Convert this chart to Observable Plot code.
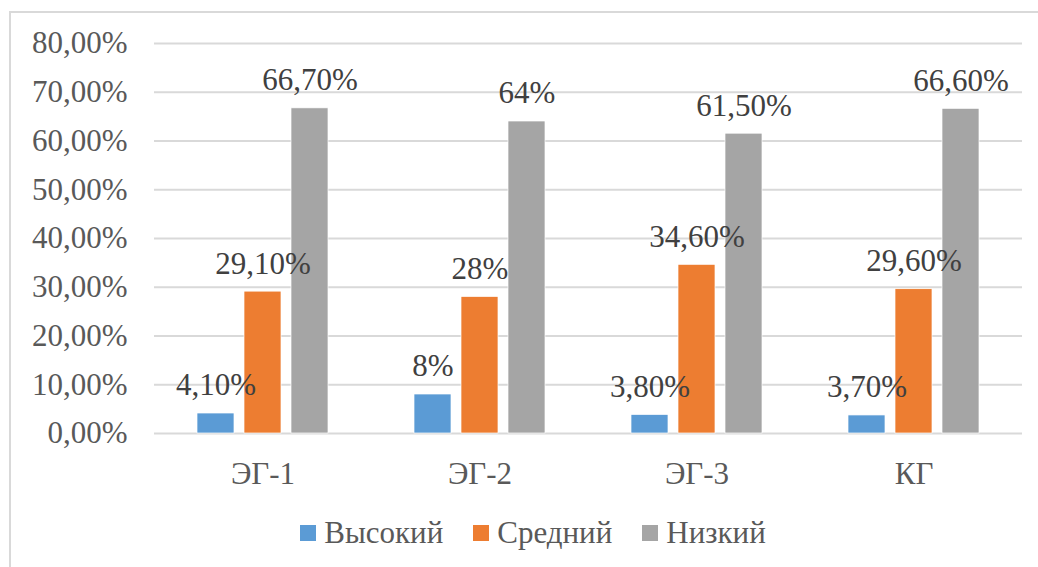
<!DOCTYPE html>
<html><head><meta charset="utf-8">
<script src="https://cdn.jsdelivr.net/npm/d3@7"></script>
<script src="https://cdn.jsdelivr.net/npm/@observablehq/plot@0.6"></script>
<style>
html,body{margin:0;padding:0;width:1038px;height:567px;overflow:hidden;background:#fff;font-family:'Liberation Serif',Tinos,'Times New Roman',serif;}
#frame{position:absolute;left:9px;top:11px;width:1100px;height:700px;border:2px solid #d9d9d9;box-sizing:border-box;}
#chart{position:absolute;left:0;top:0;}
#legend{position:absolute;left:0;top:515px;width:1066px;display:flex;justify-content:center;align-items:center;font-size:31px;color:#595959;line-height:36px;}
#legend .item{display:flex;align-items:center;margin:0 15px;}
#legend .sw{width:16px;height:16px;margin-right:8px;}
</style>
</head><body>
<div id="frame"></div>
<div id="chart"></div>
<div id="legend"></div>
<script>
const categories = ["ЭГ-1", "ЭГ-2", "ЭГ-3", "КГ"];
const seriesNames = ["Высокий", "Средний", "Низкий"];
const colors = ["#5b9bd5", "#ed7d31", "#a5a5a5"];
const high = [4.1, 8, 3.8, 3.7];
const mid = [29.1, 28, 34.6, 29.6];
const low = [66.7, 64, 61.5, 66.6];
const highLabels = ["4,10%", "8%", "3,80%", "3,70%"];
const midLabels = ["29,10%", "28%", "34,60%", "29,60%"];
const lowLabels = ["66,70%", "64%", "61,50%", "66,60%"];
const yTicks = [0, 10, 20, 30, 40, 50, 60, 70, 80];

const values = [high, mid, low];
const labels = [highLabels, midLabels, lowLabels];
const data = [];
categories.forEach((c, i) => {
  seriesNames.forEach((s, j) => {
    data.push({cat: c, series: s, value: values[j][i], label: labels[j][i]});
  });
});

const fmt = v => v.toFixed(2).replace(".", ",") + "%";
const FONT = "'Liberation Serif',Tinos,'Times New Roman',serif";

const plot = Plot.plot({
  width: 1038,
  height: 500,
  marginLeft: 153,
  marginRight: 15,
  marginTop: 43,
  marginBottom: 67,
  style: {fontFamily: FONT, fontSize: "31px", color: "#595959", background: "transparent"},
  fx: {domain: categories, padding: 0, label: null},
  x: {domain: seriesNames, paddingInner: 0.208, paddingOuter: 0.87, axis: null},
  y: {domain: [0, 80], label: null},
  color: {domain: seriesNames, range: colors},
  marks: [
    Plot.gridY(yTicks, {stroke: "#d9d9d9", strokeOpacity: 1, strokeWidth: 2}),
    Plot.axisY(yTicks, {tickSize: 0, tickPadding: 27, tickFormat: fmt, fill: "#595959", fontSize: 31, label: null}),
    Plot.axisFx({anchor: "bottom", tickSize: 0, tickPadding: 28, fill: "#595959", fontSize: 31, label: null}),
    Plot.barY(data, {fx: "cat", x: "series", y: "value", fill: "series", stroke: "#ffffff", strokeWidth: 0.7}),
    Plot.text(data, {fx: "cat", x: "series", y: "value", text: "label", dy: -28, lineAnchor: "middle", fill: "#404040", fontSize: 31})
  ]
});
document.getElementById("chart").appendChild(plot);

const legend = document.getElementById("legend");
seriesNames.forEach((s, i) => {
  const item = document.createElement("div");
  item.className = "item";
  const sw = document.createElement("div");
  sw.className = "sw";
  sw.style.background = colors[i];
  const t = document.createElement("span");
  t.textContent = s;
  item.appendChild(sw);
  item.appendChild(t);
  legend.appendChild(item);
});
</script>
</body></html>
